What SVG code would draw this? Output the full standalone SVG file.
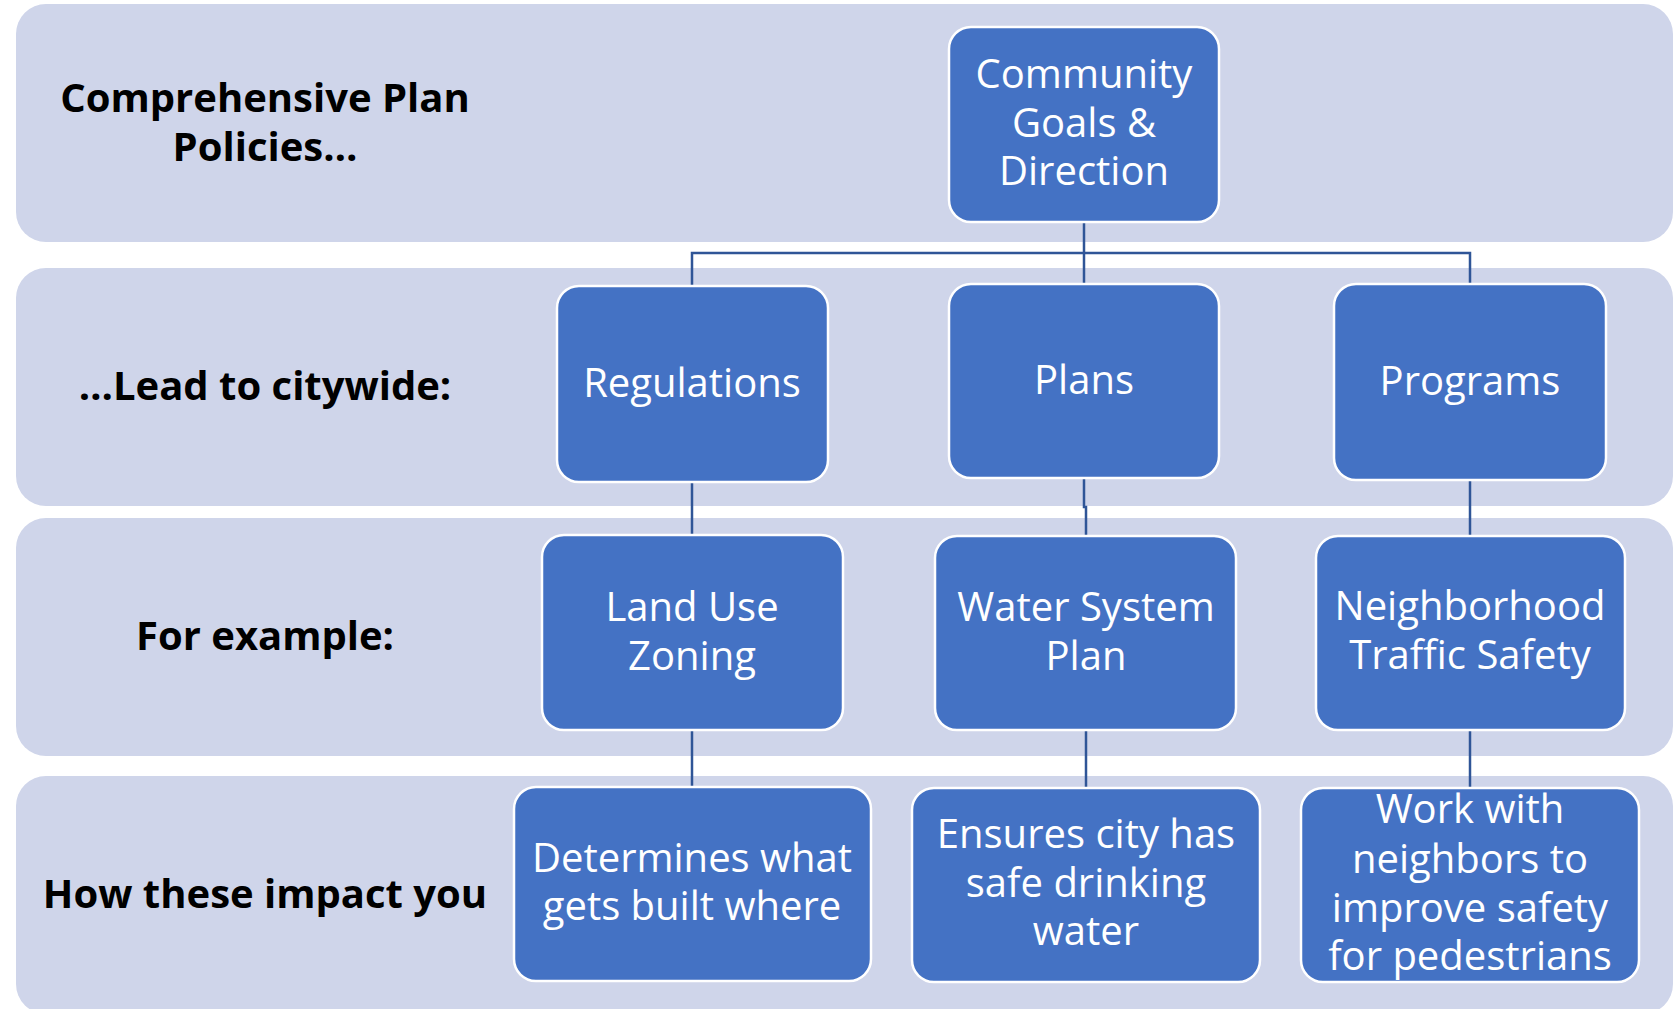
<svg xmlns="http://www.w3.org/2000/svg" width="1680" height="1009" viewBox="0 0 1680 1009">
<style>
.band{fill:#CFD5EA;}
.box{fill:#4472C4;stroke:#FFFFFF;stroke-width:2.5;}
.bt{font-family:"Open Sans","Liberation Sans",sans-serif;font-size:40px;fill:#FFFFFF;text-anchor:middle;}
.lab{font-family:"Open Sans","Liberation Sans",sans-serif;font-size:40px;font-weight:bold;fill:#000000;text-anchor:middle;}
.con{fill:none;stroke:#2F5597;stroke-width:2.5;}
</style>
<rect width="1680" height="1009" fill="#FFFFFF"/>
<g id="bands">
<rect class="band" x="16" y="4" width="1657" height="238" rx="30"/>
<rect class="band" x="16" y="268" width="1657" height="238" rx="30"/>
<rect class="band" x="16" y="518" width="1657" height="238" rx="30"/>
<rect class="band" x="16" y="776" width="1657" height="238" rx="30"/>
</g>
<g id="labels">
<text class="lab" x="265" y="112">Comprehensive Plan</text>
<text class="lab" x="265" y="161">Policies…</text>
<text class="lab" x="265" y="400">…Lead to citywide:</text>
<text class="lab" x="265" y="650">For example:</text>
<text class="lab" x="265" y="908">How these impact you</text>
</g>
<g id="connectors">
<path class="con" d="M1084 222 V284"/>
<path class="con" d="M692 286 V253 H1470 V284"/>
<path class="con" d="M692 482 V535"/>
<path class="con" d="M1084 478 V507 H1086 V536"/>
<path class="con" d="M1470 480 V536"/>
<path class="con" d="M692 730 V787"/>
<path class="con" d="M1086 730 V788"/>
<path class="con" d="M1470 730 V788"/>
</g>
<g id="community">
<rect class="box" x="949" y="27" width="270" height="195" rx="22"/>
<text class="bt" x="1084" y="88">Community</text>
<text class="bt" x="1084" y="137">Goals &amp;</text>
<text class="bt" x="1084" y="185">Direction</text>
</g>
<g id="regulations">
<rect class="box" x="557" y="286" width="271" height="196" rx="22"/>
<text class="bt" x="692" y="397">Regulations</text>
</g>
<g id="plans">
<rect class="box" x="949" y="284" width="270" height="194" rx="22"/>
<text class="bt" x="1084" y="394">Plans</text>
</g>
<g id="programs">
<rect class="box" x="1334" y="284" width="272" height="196" rx="22"/>
<text class="bt" x="1470" y="395">Programs</text>
</g>
<g id="landuse">
<rect class="box" x="542" y="535" width="301" height="195" rx="22"/>
<text class="bt" x="692" y="621">Land Use</text>
<text class="bt" x="692" y="670">Zoning</text>
</g>
<g id="water">
<rect class="box" x="935" y="536" width="301" height="194" rx="22"/>
<text class="bt" x="1086" y="621">Water System</text>
<text class="bt" x="1086" y="670">Plan</text>
</g>
<g id="traffic">
<rect class="box" x="1316" y="536" width="309" height="194" rx="22"/>
<text class="bt" x="1470" y="620">Neighborhood</text>
<text class="bt" x="1470" y="669">Traffic Safety</text>
</g>
<g id="determines">
<rect class="box" x="514" y="787" width="357" height="194" rx="22"/>
<text class="bt" x="692" y="872">Determines what</text>
<text class="bt" x="692" y="920">gets built where</text>
</g>
<g id="ensures">
<rect class="box" x="912" y="788" width="348" height="194" rx="22"/>
<text class="bt" x="1086" y="848">Ensures city has</text>
<text class="bt" x="1086" y="897">safe drinking</text>
<text class="bt" x="1086" y="945">water</text>
</g>
<g id="work">
<rect class="box" x="1301" y="788" width="338" height="194" rx="22"/>
<text class="bt" x="1470" y="823">Work with</text>
<text class="bt" x="1470" y="873">neighbors to</text>
<text class="bt" x="1470" y="922">improve safety</text>
<text class="bt" x="1470" y="970">for pedestrians</text>
</g>
</svg>
